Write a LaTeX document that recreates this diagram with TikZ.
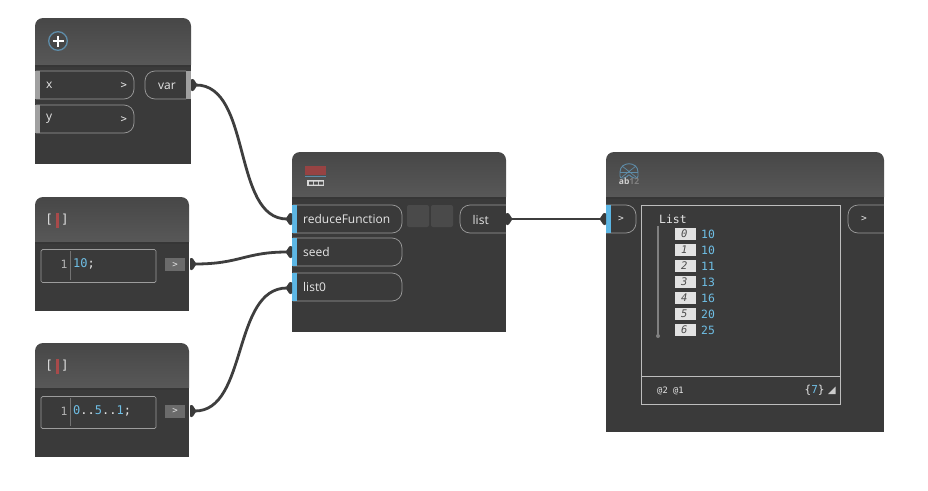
\documentclass[tikz,border=0pt]{standalone}
\usepackage{fontspec}
\setmainfont{Open Sans}
\newfontfamily\codefont{DejaVu Sans Mono}
\definecolor{nbody}{HTML}{3A3A3A}
\definecolor{htop}{HTML}{474747}
\definecolor{hbot}{HTML}{585858}
\definecolor{hedge}{HTML}{363636}
\definecolor{pill}{HTML}{9C9C9C}
\definecolor{stripeg}{HTML}{A0A0A0}
\definecolor{stripeb}{HTML}{5CB6E4}
\definecolor{wire}{HTML}{3E3E3E}
\definecolor{val}{HTML}{6FBFE6}
\definecolor{txt}{HTML}{E6E6E6}
\definecolor{idx}{HTML}{E2E2E2}
\definecolor{btn}{HTML}{4A4A4A}
\definecolor{frame}{HTML}{BDBDBD}
\definecolor{cursor}{HTML}{A84A4A}
\definecolor{iconb}{HTML}{5E8CA8}
\tikzset{
  x=1pt,y=-1pt,
  label text/.style={inner sep=0pt,anchor=west,text=txt,font=\fontsize{12}{12}\selectfont},
  arrow text/.style={inner sep=0pt,anchor=west,text=txt,font=\codefont\fontsize{10.5}{11}\selectfont},
  code text/.style={inner sep=0pt,anchor=west,text=txt,font=\codefont\fontsize{11.4}{12}\selectfont},
  block text/.style={code text,font=\codefont\fontsize{12}{12}\selectfont},
  value text/.style={code text,text=val},
  index box/.style={inner sep=0pt,anchor=west,minimum width=21pt,minimum height=12pt,fill=idx,text=black!70,font=\codefont\itshape\fontsize{10.5}{11}\selectfont,align=right},
  pill line/.style={draw=pill,line width=.7pt},
  wire line/.style={draw=wire,line width=2.8pt,line cap=round},
}
% \nodebox{x1}{y1}{x2}{y2}{header bottom}
\newcommand{\nodebox}[5]{%
  \fill[nbody] (#1,#5) rectangle (#3,#4);
  \shade[top color=htop,bottom color=hbot] (#1,#5) [rounded corners=8pt] -- (#1,#2) -- (#3,#2) [sharp corners] -- (#3,#5) -- cycle;
  \fill[hedge] (#1,#5) rectangle (#3,#5+2);
}
% \inpill{name}{x1}{y1}{x2}{y2}{stripe}{text}
\newcommand{\inpill}[7]{%
  \draw[pill line] (#2,#3) -- (#4-10,#3) [rounded corners=10pt] -- (#4,#3) -- (#4,#5) [sharp corners] -- (#2,#5);
  \fill[#6] (#2-1,#3) rectangle (#2+3.5,#5);
  \node[label text] (#1) at (#2+10,#3/2+#5/2) {#7};
}
% output and input port wedges: \outport{name}{x}{y}, x = flat side
\newcommand{\outport}[3]{%
  \fill[nbody,rounded corners=.8pt] (#2,#3-6) -- (#2+2.5,#3-6) -- (#2+6.5,#3) -- (#2+2.5,#3+6) -- (#2,#3+6) -- cycle;
  \coordinate (#1) at (#2+5,#3);
}
\newcommand{\inport}[3]{%
  \fill[nbody,rounded corners=.8pt] (#2,#3-6) -- (#2-2.5,#3-6) -- (#2-6.5,#3) -- (#2-2.5,#3+6) -- (#2,#3+6) -- cycle;
  \coordinate (#1) at (#2-5,#3);
}
\begin{document}
\begin{tikzpicture}
\useasboundingbox (0,0) rectangle (928,490);
\fill[white] (0,0) rectangle (928,490);

% ---------- add node
\nodebox{35}{18}{191}{164}{65}
\draw[iconb,line width=1.3pt,fill=black!72] (58,41) circle (9.3);
\draw[white,line width=1.9pt] (52.5,41) -- (63.5,41) (58,35.5) -- (58,46.5);
\inpill{xlab}{36}{71}{134}{99}{stripeg}{x}
\node[arrow text] (xarr) at (120.5,86) {>};
\inpill{ylab}{36}{105}{134}{133}{stripeg}{y}
\node[arrow text] (yarr) at (120.5,119.5) {>};
\draw[pill line,rounded corners=10pt] (186,71) -- (145,71) -- (145,99) -- (186,99);
\fill[stripeg] (186,71) rectangle (191,99);
\node[label text] (varlab) at (158,86) {var};
\outport{pvar}{191}{85}

% ---------- code block 1
\nodebox{35}{197}{189}{311}{242}
\node[inner sep=0pt,text=idx,font=\codefont\fontsize{12.5}{12}\selectfont] (ico1) at (57,220) {[\hspace{8pt}]};
\fill[cursor] (55.5,212.5) rectangle (58.5,228);
\draw[pill line,rounded corners=1.5pt] (41,249.5) rectangle (156,282.5);
\draw[black!55,line width=.3pt] (70,251) -- (70,280);
\node[code text,text=black!30] (ln1) at (60.5,264) {1};
\node[block text] (code1) at (73,264) {\textcolor{val}{10};};
\node[fill=black!58,minimum width=20pt,minimum height=13pt,inner sep=0pt,text=txt,font=\codefont\fontsize{9}{9}\selectfont] (ob1) at (175,264.5) {>};
\outport{p1}{190}{264}

% ---------- code block 2
\nodebox{35}{343}{189}{457}{388}
\node[inner sep=0pt,text=idx,font=\codefont\fontsize{12.5}{12}\selectfont] (ico2) at (57,366) {[\hspace{8pt}]};
\fill[cursor] (55.5,358.5) rectangle (58.5,374);
\draw[pill line,rounded corners=1.5pt] (41,396.5) rectangle (156,428.5);
\draw[black!55,line width=.3pt] (70,398) -- (70,426);
\node[code text,text=black!30] (ln2) at (60.5,411) {1};
\node[block text] (code2) at (73,411) {\textcolor{val}{0}..\textcolor{val}{5}..\textcolor{val}{1};};
\node[fill=black!58,minimum width=20pt,minimum height=13pt,inner sep=0pt,text=txt,font=\codefont\fontsize{9}{9}\selectfont] (ob2) at (175,411) {>};
\outport{p2}{190}{411}

% ---------- reduce node
\nodebox{292}{152}{506}{332}{197}
\fill[cursor!90!black] (305,166) rectangle (325.5,175);
\foreach \sx in {308,310.5,...,323}{\draw[black!10!cursor,line width=.5pt] (\sx,168) -- (\sx,173);}
\draw[iconb,line width=.8pt] (305,176.8) -- (325.5,176.8);
\fill[black!15] (307,180) rectangle (324,186);
\fill[black!70] (309,181.5) rectangle (313,184.5) (314,181.5) rectangle (318,184.5) (319,181.5) rectangle (323,184.5);
\inpill{rf}{293}{205}{402}{233}{stripeb}{reduceFunction}
\inpill{seed}{293}{238}{402}{266}{stripeb}{seed}
\inpill{list0}{293}{273}{402}{301}{stripeb}{list0}
\fill[btn,rounded corners=2pt] (407,205) rectangle (429,227);
\fill[btn,rounded corners=2pt] (431,205) rectangle (453,227);
\draw[pill line,rounded corners=10pt] (506,205) -- (460,205) -- (460,233) -- (506,233);
\node[label text] (listlab) at (472.5,220) {list};
\inport{prf}{292}{219}
\inport{pseed}{292}{252}
\inport{plist0}{292}{288}
\outport{plist}{506}{219}

% ---------- watch node
\nodebox{606}{152}{884}{432}{197}
\draw[iconb,line width=.9pt] (620,172) .. controls (620,161) and (638,161) .. (638,172);
\draw[iconb,line width=.9pt,rounded corners=2pt] (620,172) -- (620,178) -- (626,178) -- (629,174) -- (632,178) -- (638,178) -- (638,172);
\draw[iconb,line width=.9pt] (620,172) -- (638,172);
\draw[iconb,line width=.7pt] (622,166) -- (636,177) (636,166) -- (622,177);
\node[inner sep=0pt,text=black!18,font=\fontsize{8.5}{8}\selectfont\bfseries] (abico) at (629,181.5) {ab\textcolor{black!50}{12}};
\draw[pill line] (606,205) -- (626,205) [rounded corners=10pt] -- (636,205) -- (636,233) [sharp corners] -- (606,233);
\fill[stripeb] (606,205) rectangle (611,233);
\node[arrow text,font=\codefont\fontsize{9.5}{10}\selectfont] (warr) at (618,219) {>};
\draw[pill line,rounded corners=10pt] (884,205) -- (848,205) -- (848,233) -- (884,233);
\node[arrow text,font=\codefont\fontsize{9.5}{10}\selectfont] (oarr) at (861,219) {>};
\inport{pw}{606}{219}

\draw[frame,line width=.8pt] (641.5,205.5) rectangle (840.5,404);
\draw[frame,line width=.8pt] (641.5,376) -- (840.5,376);
\node[code text] (ltitle) at (659,219) {List};
\draw[black!50,line width=1.1pt] (658,226) -- (658,336);
\fill[black!50] (658,336) circle (2);
\foreach \i/\v [count=\c from 0] in {0/10,1/10,2/11,3/13,4/16,5/20,6/25}{
  \node[index box] (ix\i) at (675,234+16*\c) {\hfill\i\hspace{3pt}};
  \node[value text] (v\i) at (701,234.5+16*\c) {\v};
}
\node[code text,font=\codefont\fontsize{8.8}{9}\selectfont] (lev) at (657,391) {@2 @1};
\node[code text,font=\codefont\fontsize{11}{11}\selectfont] (cnt) at (804.5,390) {\{\textcolor{val}{7}\}};
\fill[black!20] (828,394) -- (835.5,394) -- (835.5,386.5) -- cycle;

% ---------- wires
\draw[wire line] (pvar) .. controls (252,85) and (232,219) .. (prf);
\draw[wire line] (p1) .. controls (240,264) and (245,252) .. (pseed);
\draw[wire line] (p2) .. controls (248,411) and (232,288) .. (plist0);
\draw[wire line] (plist) -- (pw);
\end{tikzpicture}
\end{document}
